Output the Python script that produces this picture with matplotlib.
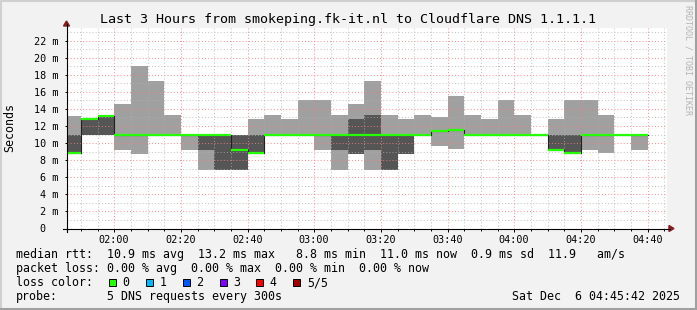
import matplotlib
matplotlib.use('Agg')
import numpy as np
import matplotlib.pyplot as plt
from matplotlib.patches import Rectangle, Polygon
from matplotlib.lines import Line2D
from matplotlib.transforms import Affine2D

W, H = 697, 310
MONO = 'DejaVu Sans Mono'

# one bar per 5 minute step (start time of the step)
bar_times = ['01:45', '01:50', '01:55', '02:00', '02:05', '02:10', '02:15',
             '02:20', '02:25', '02:30', '02:35', '02:40', '02:45', '02:50',
             '02:55', '03:00', '03:05', '03:10', '03:15', '03:20', '03:25',
             '03:30', '03:35', '03:40', '03:45', '03:50', '03:55', '04:00',
             '04:05', '04:10', '04:15', '04:20', '04:25', '04:30', '04:35']

# sorted pings in ms: lowest, 2nd, median, 4th, highest
ping_min = [8.8, 11.0, 11.0, 9.15, 8.7, 11.0, 11.0, 9.15, 6.9, 6.9, 6.9, 8.8,
            11.0, 11.0, 11.0, 9.15, 6.9, 8.7, 6.9, 6.9, 8.7, 11.0, 9.65, 9.3,
            11.0, 11.0, 11.0, 11.0, 11.0, 9.15, 8.8, 9.15, 8.8, 11.0, 9.15]
smoke_lo = [8.8, 11.0, 11.0, 11.0, 11.0, 11.0, 11.0, 11.0, 9.15, 6.9, 6.9, 8.8,
            11.0, 11.0, 11.0, 11.0, 9.15, 8.7, 9.15, 6.9, 8.7, 11.0, 11.4, 11.55,
            11.0, 11.0, 11.0, 11.0, 11.0, 9.15, 8.8, 11.0, 11.0, 11.0, 11.0]
median = [8.8, 12.85, 13.2, 11.0, 11.0, 11.0, 11.0, 11.0, 11.0, 11.0, 9.15, 8.8,
          11.0, 11.0, 11.0, 11.0, 11.0, 11.0, 11.0, 11.0, 11.0, 11.0, 11.4, 11.55,
          11.0, 11.0, 11.0, 11.0, 11.0, 9.15, 8.8, 11.0, 11.0, 11.0, 11.0]
smoke_hi = [11.0, 12.85, 13.2, 11.0, 11.0, 11.0, 11.0, 11.0, 11.0, 11.0, 11.0, 11.0,
            11.0, 11.0, 11.0, 11.0, 11.0, 12.8, 13.25, 11.0, 11.0, 11.0, 11.4, 11.55,
            11.0, 11.0, 11.0, 11.0, 11.0, 11.0, 11.0, 11.0, 11.0, 11.0, 11.0]
ping_max = [13.2, 12.85, 13.2, 14.55, 19.0, 17.25, 13.25, 11.0, 11.0, 11.0, 11.0, 12.8,
            13.25, 12.8, 15.0, 15.0, 13.25, 14.55, 17.25, 13.25, 12.8, 13.25, 13.1, 15.5,
            13.25, 12.8, 15.0, 13.25, 11.0, 12.8, 15.0, 15.0, 13.25, 11.0, 11.0]

x_labels = ['02:00', '02:20', '02:40', '03:00', '03:20', '03:40', '04:00', '04:20', '04:40']
y_values = [0, 2, 4, 6, 8, 10, 12, 14, 16, 18, 20, 22]

loss_labels = ['0', '1', '2', '3', '4', '5/5']
loss_colors = ['#26ff00', '#00b8ff', '#0059ff', '#7e00ff', '#ff0000', '#a10000']

stat_lines = [
    ('median rtt:', '10.9 ms avg  13.2 ms max   8.8 ms min  11.0 ms now  0.9 ms sd  11.9   am/s'),
    ('packet loss:', '0.00 % avg  0.00 % max  0.00 % min  0.00 % now'),
]
probe_text = '5 DNS requests every 300s'
stamp = 'Sat Dec  6 04:45:42 2025'
title = 'Last 3 Hours from smokeping.fk-it.nl to Cloudflare DNS 1.1.1.1'


def minutes(hhmm):
    h, m = hhmm.split(':')
    return (int(h) - 2) * 60 + int(m)


LIGHT = '#a0a0a0'
DARK = '#555555'
GREEN = '#26ff00'

fig = plt.figure(figsize=(W / 100, H / 100), dpi=100, facecolor='#f2f2f2')
# pixel coords, origin top-left
pix = Affine2D().scale(1 / W, -1 / H).translate(0, 1) + fig.transFigure

# frame around the canvas
fig.add_artist(Line2D([0.5, 0.5, W - 1], [H - 1, 0.5, 0.5], color='#d0d0d0', lw=1.5, transform=pix))
fig.add_artist(Line2D([1, W - 1, W - 1], [H - 1.5, H - 1.5, 1], color='#a0a0a0', lw=2.2, transform=pix))

ax_l, ax_r, ax_t, ax_b = 66.5, 666.5, 27.7, 228.5
ax = fig.add_axes([ax_l / W, (H - ax_b) / H, (ax_r - ax_l) / W, (ax_b - ax_t) / H])
ax.set_facecolor('white')

left = np.array([minutes(t) for t in bar_times], dtype=float)
p1, p2, p3 = np.array(ping_min), np.array(smoke_lo), np.array(median)
p4, p5 = np.array(smoke_hi), np.array(ping_max)

ax.bar(left, p2 - p1, bottom=p1, width=5, align='edge', color=LIGHT, lw=0, zorder=1)
ax.bar(left, p4 - p2, bottom=p2, width=5, align='edge', color=DARK, lw=0, zorder=1)
ax.bar(left, p5 - p4, bottom=p4, width=5, align='edge', color=LIGHT, lw=0, zorder=1)

# median: dark steps, green flat parts
xs = np.append(left, left[-1] + 5)
ys = np.append(p3, p3[-1])
ax.step(xs, ys, where='post', color='#202020', lw=0.8, zorder=3)
ax.hlines(p3, left, left + 5, color=GREEN, lw=1.6, zorder=4)

x0 = minutes('01:45') + 42 / 60
x1 = x0 + 180
ax.set_xlim(x0, x1)
ax.set_ylim(0, (ax_b - ax_t) / 8.54)

# grid drawn over the smoke
for v in range(1, 24):
    major = v % 2 == 0
    ax.axhline(v, color='#f08080' if major else '#b0b0b0', alpha=0.8 if major else 0.7,
               lw=0.75, ls=(0, (1, 2)), zorder=2)
for t in range(-10, 170, 5):
    major = t % 20 == 0
    ax.axvline(t, color='#f08080' if major else '#b0b0b0', alpha=0.8 if major else 0.7,
               lw=0.75, ls=(0, (1, 2)), zorder=2)

ax.set_xticks([minutes(s) for s in x_labels])
ax.set_xticklabels(x_labels, family=MONO, fontsize=7.3)
ax.set_xticks(np.arange(-10, 170, 5), minor=True)
ax.set_yticks(y_values)
ax.set_yticklabels(['0  ' if v == 0 else f'{v} m' for v in y_values], family=MONO, fontsize=7.3)
ax.tick_params(axis='x', which='major', length=2.5, width=0.7, pad=2.5, color='black')
ax.tick_params(axis='x', which='minor', length=1.5, width=0.7, color='black')
ax.tick_params(axis='y', length=1.5, width=0.7, pad=4.5, color='black')
for s in ['top', 'right', 'left', 'bottom']:
    ax.spines[s].set_visible(False)

# axis lines with arrows
fig.add_artist(Line2D([63, 670], [ax_b, ax_b], color='black', lw=0.8, transform=pix))
fig.add_artist(Line2D([ax_l, ax_l], [232, 24], color='black', lw=0.8, transform=pix))
fig.add_artist(Polygon([[669, 225.5], [674, ax_b], [669, 231.5]], closed=True,
                       color='#8b1a1a', transform=pix))
fig.add_artist(Polygon([[63.5, 26], [ax_l, 21], [69.5, 26]], closed=True,
                       color='#8b1a1a', transform=pix))


def ftext(x, y, s, **kw):
    kw.setdefault('family', MONO)
    kw.setdefault('color', 'black')
    return fig.text(x / W, 1 - y / H, s, **kw)


ftext(W / 2, 19, title, fontsize=9.6, ha='center', va='center')
ftext(10, 128, 'Seconds', fontsize=8.4, rotation=90, ha='center', va='center')
ftext(688, 60, 'RRDTOOL / TOBI OETIKER', fontsize=6.0, rotation=270,
      ha='center', va='center', color='#b4b4b4')

cw = 7.02
row_y = [254.5, 268.5, 282.5, 296.5]
for (lab, vals), y in zip(stat_lines, row_y):
    ftext(16, y, lab, fontsize=8.4, va='center')
    ftext(16 + 13 * cw, y, vals, fontsize=8.4, va='center')

ftext(16, row_y[2], 'loss color:', fontsize=8.4, va='center')
box_x = 109
for lab, col in zip(loss_labels, loss_colors):
    fig.add_artist(Rectangle((box_x, row_y[2] - 3.5), 7, 7, facecolor=col,
                             edgecolor='black', lw=0.7, transform=pix))
    ftext(box_x + 13.5, row_y[2], lab, fontsize=8.4, va='center')
    box_x += 36.85

ftext(16, row_y[3], 'probe:', fontsize=8.4, va='center')
ftext(16 + 13 * cw, row_y[3], probe_text, fontsize=8.4, va='center')
ftext(680, row_y[3], stamp, fontsize=8.4, va='center', ha='right')

fig.savefig('out.png', dpi=100, facecolor=fig.get_facecolor())
